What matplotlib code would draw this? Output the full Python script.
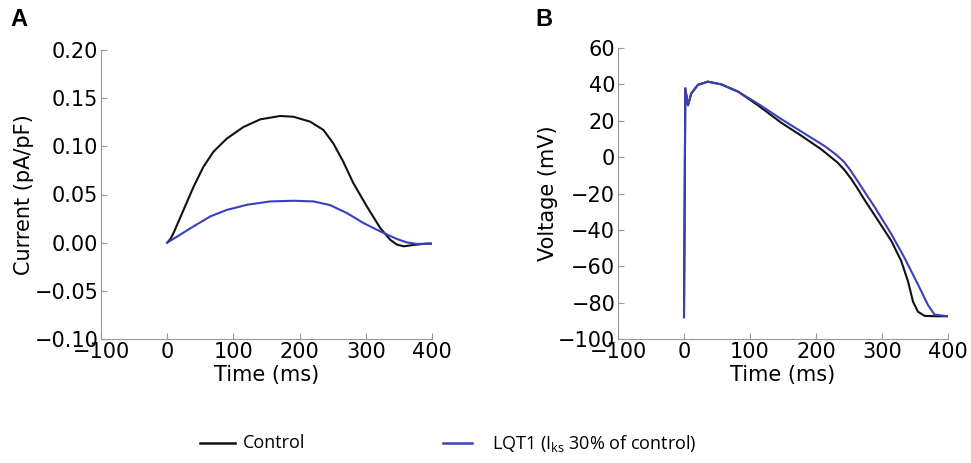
import numpy as np
import matplotlib.pyplot as plt

# Panel A: slow delayed rectifier current (pA/pF) vs time (ms)
t_cur_ctrl = [0, 5, 9.6, 24.7, 39.8, 54.9, 70, 90, 115, 140.5, 170.7, 190.8, 216, 236, 251, 266, 281,
              301.6, 321.8, 336.9, 347, 357, 372, 392, 400]
cur_ctrl = [0, 0.004, 0.010, 0.034, 0.058, 0.079, 0.0945, 0.108, 0.120, 0.128, 0.1315, 0.1307, 0.1256,
            0.117, 0.103, 0.084, 0.062, 0.0376, 0.0152, 0.003, -0.002, -0.0038, -0.0024, -0.001, -0.001]
t_cur_lqt1 = [0, 19.6, 39.8, 65, 90, 120.4, 155.6, 190.8, 221, 246, 271.5, 296.5, 321.8, 347, 362, 377, 400]
cur_lqt1 = [0, 0.0083, 0.0169, 0.0272, 0.034, 0.0393, 0.0428, 0.0435, 0.0428, 0.039, 0.0307, 0.0204,
            0.0117, 0.0038, 0.0003, -0.0013, -0.001]

# Panel B: action potential (mV) vs time (ms)
t_v_ctrl = [0, 2, 6, 11, 21, 36, 56.5, 82, 112, 147, 178, 208, 233, 243, 253, 263, 273.7, 294, 314,
            329, 339.4, 347, 354.5, 364.6, 384, 400]
v_ctrl = [-88, 37.8, 28.5, 35, 39.7, 41.5, 40, 36, 28.5, 19, 11.7, 4.3, -3.1, -7, -11.8, -17.3, -23.6,
          -34.8, -46, -57, -68.3, -79.5, -85, -87.3, -87.5, -87.5]
t_v_lqt1 = [0, 2, 6, 11, 21, 36, 56.5, 82, 112, 147, 178, 213, 230, 243, 253, 263.6, 288.8, 314, 334,
            354.5, 369.6, 379.7, 400]
v_lqt1 = [-88, 37.8, 28.5, 35, 39.7, 41.5, 40, 36, 29.4, 21, 14, 6.1, 1.5, -2.8, -7.6, -13.5, -27.4,
          -42.2, -55.3, -70, -81.3, -86.6, -87.5]

black = '#111111'
blue = '#3a3fbf'

plt.rcParams['font.family'] = 'DejaVu Sans'

fig = plt.figure(figsize=(9.71, 4.63), dpi=100)
ax1 = fig.add_axes([101 / 971, 1 - 339 / 463, 331 / 971, 289 / 463])
ax2 = fig.add_axes([618 / 971, 1 - 339 / 463, 330 / 971, 291 / 463])

for ax in (ax1, ax2):
    ax.spines['top'].set_visible(False)
    ax.spines['right'].set_visible(False)
    ax.spines['left'].set_color('#999999')
    ax.spines['bottom'].set_color('#999999')
    ax.tick_params(direction='in', length=4, color='#999999', labelsize=15, pad=2)
    ax.set_xlim(-100, 400)
    ax.set_xticks([-100, 0, 100, 200, 300, 400])
    ax.set_xlabel('Time (ms)', fontsize=15, labelpad=2.5)

ax1.plot(t_cur_ctrl, cur_ctrl, color=black, linewidth=1.5, solid_joinstyle='round')
ax1.plot(t_cur_lqt1, cur_lqt1, color=blue, linewidth=1.5, solid_joinstyle='round')
ax1.set_ylim(-0.10, 0.20)
ax1.set_yticks([-0.10, -0.05, 0.00, 0.05, 0.10, 0.15, 0.20])
ax1.set_yticklabels(['\u22120.10', '\u22120.05', '0.00', '0.05', '0.10', '0.15', '0.20'])
ax1.set_ylabel('Current (pA/pF)', fontsize=15, labelpad=0)

ax2.plot(t_v_ctrl, v_ctrl, color=black, linewidth=1.5, solid_joinstyle='round')
ax2.plot(t_v_lqt1, v_lqt1, color=blue, linewidth=1.5, solid_joinstyle='round')
ax2.set_ylim(-100, 60)
ax2.set_yticks([-100, -80, -60, -40, -20, 0, 20, 40, 60])
ax2.set_ylabel('Voltage (mV)', fontsize=15, labelpad=0)

fig.text(10 / 971, 1 - 20 / 463, 'A', fontsize=17, fontweight='bold', family='Liberation Sans', va='center')
fig.text(535 / 971, 1 - 20 / 463, 'B', fontsize=17, fontweight='bold', family='Liberation Sans', va='center')

# legend below the panels
legend_y = 1 - 443 / 463
fig.add_artist(plt.Line2D([200 / 971, 235 / 971], [legend_y, legend_y], color=black, linewidth=1.8))
fig.text(243 / 971, legend_y, 'Control', fontsize=13, family='Open Sans', va='center')
fig.add_artist(plt.Line2D([443 / 971, 472 / 971], [legend_y, legend_y], color=blue, linewidth=1.8))
fig.text(492 / 971, legend_y, 'LQT1 (I$_{\\mathregular{ks}}$ 30% of control)', fontsize=13,
         family='Open Sans', va='center')

plt.savefig('out.png', dpi=100)
